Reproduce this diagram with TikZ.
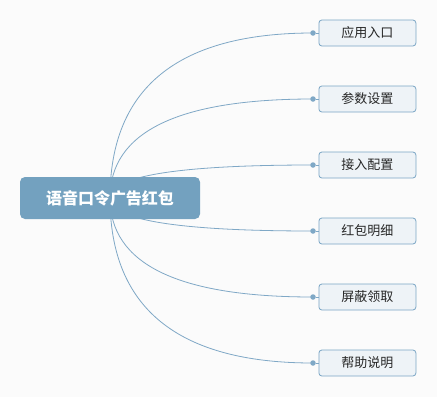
\documentclass[tikz,border=0pt]{standalone}
\usepackage{fontspec}
\newfontfamily\cjk{Noto Sans CJK SC}
\definecolor{bgc}{HTML}{FBFBFB}
\definecolor{mainc}{HTML}{73A1BF}
\definecolor{leaff}{HTML}{EEF3F7}
\definecolor{leafd}{HTML}{7BA6C5}
\definecolor{linec}{HTML}{7FA8C6}
\begin{document}
\begin{tikzpicture}[x=1pt,y=-1pt,
  rootbox/.style={fill=mainc,draw=none,rounded corners=5pt,minimum width=180pt,minimum height=42pt,text=white,font=\cjk\bfseries\fontsize{16}{19}\selectfont,inner sep=0pt},
  leafbox/.style={fill=leaff,draw=leafd,line width=0.8pt,rounded corners=3pt,minimum width=97pt,minimum height=26pt,font=\cjk\fontsize{13}{15}\selectfont,text=black!85,inner sep=0pt},
  dotn/.style={circle,fill=linec,draw=none,minimum size=5.5pt,inner sep=0pt},
  conn/.style={draw=linec,line width=0.8pt}]
\useasboundingbox (0,0) rectangle (437,397);
\fill[bgc] (0,0) rectangle (437,397);
\coordinate (o) at (110,198);
\foreach \i/\y/\t in {1/33/应用入口,2/99/参数设置,3/165/接入配置,4/231/红包明细,5/297/屏蔽领取,6/363/帮助说明}{
  \node[leafbox,anchor=west] (l\i) at (318.5,\y) {\t};
  \node[dotn] (d\i) at (313,\y) {};
  \draw[conn] (d\i) -- (l\i.west);
  \pgfmathsetmacro{\cy}{198+2/3*(\y-198)}
  \draw[conn] (o) .. controls (110,\cy) and (177.7,\y) .. (d\i.center);
}
\node[rootbox] (c) at (o) {语音口令广告红包};
\end{tikzpicture}
\end{document}
